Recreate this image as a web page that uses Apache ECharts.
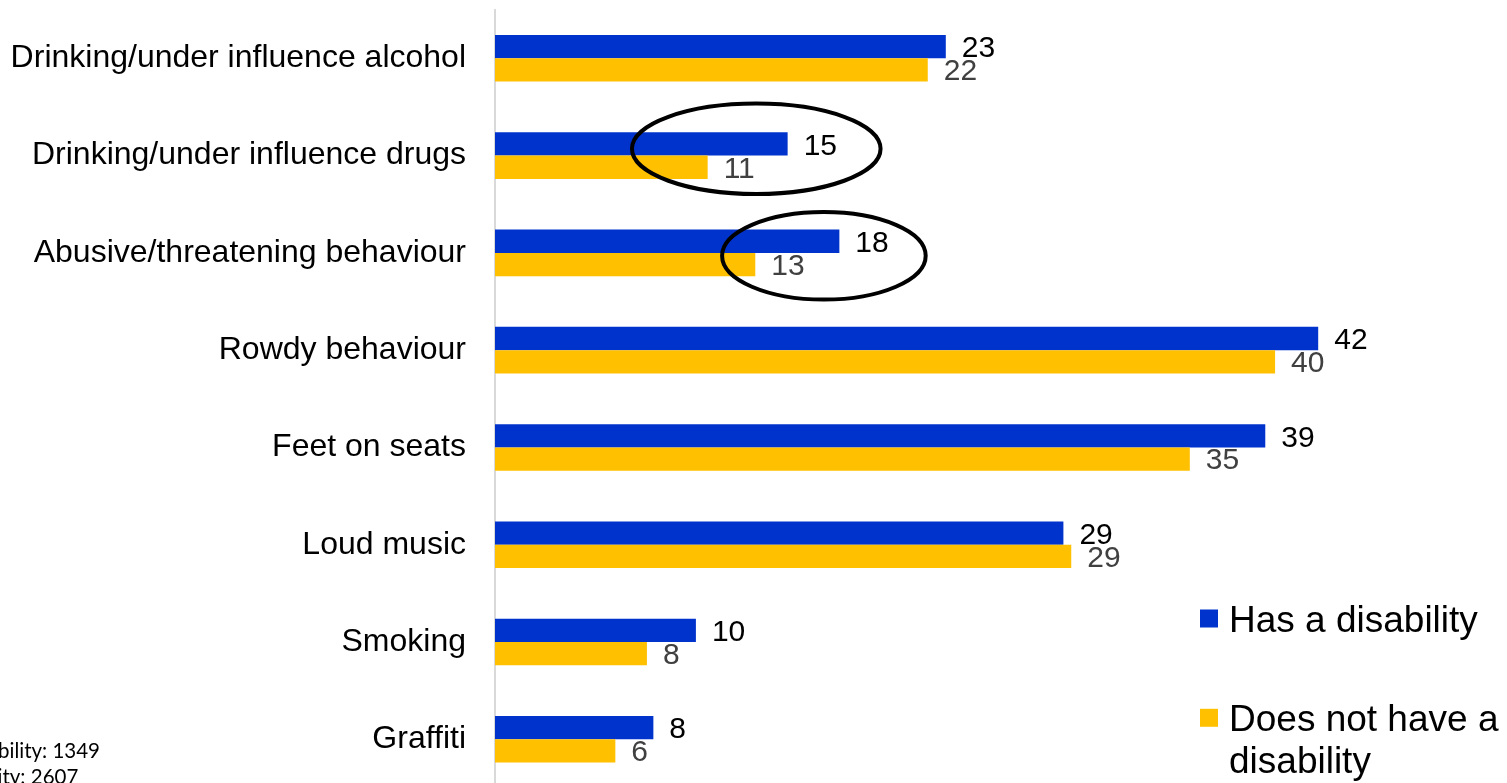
<!DOCTYPE html>
<html>
<head>
<meta charset="utf-8">
<script src="https://cdn.jsdelivr.net/npm/echarts@6/dist/echarts.min.js"></script>
<style>
  html, body { margin: 0; padding: 0; background: #fff; overflow: hidden; }
  #chart { width: 1507px; height: 792px; }
</style>
</head>
<body>
<div id="chart"></div>
<script>
// ---- data ----
const categories = [
  'Drinking/under influence alcohol',
  'Drinking/under influence drugs',
  'Abusive/threatening behaviour',
  'Rowdy behaviour',
  'Feet on seats',
  'Loud music',
  'Smoking',
  'Graffiti'
];
const seriesNames = ['Has a disability', 'Does not have a disability'];
const hasDisability = [23.0, 14.93, 17.57, 42.0, 39.3, 29.0, 10.25, 8.08];
const noDisability  = [22.08, 10.85, 13.28, 39.8, 35.45, 29.4, 7.75, 6.14];
const baseNotes = ['Has a disability: 1349', 'No disability: 2607'];
const circledCategories = [1, 2];

const FONT = '"Liberation Sans", Arial, sans-serif';
const chart = echarts.init(document.getElementById('chart'), null, { renderer: 'canvas' });

const labelFmt = p => String(Math.round(p.value));
const legendRich = {
  t: { color: '#000', fontSize: 37, lineHeight: 42, fontFamily: FONT, padding: [0, 0, 0, 6] },
  p1: { fontSize: 4, lineHeight: 6 },
  p2: { fontSize: 4, lineHeight: 48 }
};

const option = {
  backgroundColor: '#ffffff',
  animation: false,
  grid: { left: 495, top: 9.66, width: 980, height: 778.3, containLabel: false },
  xAxis: {
    type: 'value', min: 0, max: 50,
    show: false
  },
  yAxis: {
    type: 'category', data: categories, inverse: true,
    axisLine: { show: true, lineStyle: { color: '#d9d9d9', width: 2 } },
    axisTick: { show: false },
    splitLine: { show: false },
    axisLabel: { color: '#000', fontSize: 32, fontFamily: FONT, margin: 29, padding: [4, 0, 0, 0] }
  },
  legend: [
    {
      left: 1200, top: 594.5, padding: 0, orient: 'vertical',
      icon: 'rect', itemWidth: 18, itemHeight: 18,
      data: [seriesNames[0]],
      formatter: n => '{p1| }\n{t|' + n + '}',
      textStyle: { color: '#000', fontSize: 37, lineHeight: 42, fontFamily: FONT, rich: legendRich }
    },
    {
      left: 1200, top: 651.8, padding: 0, orient: 'vertical',
      icon: 'rect', itemWidth: 18, itemHeight: 18,
      data: [seriesNames[1]],
      formatter: () => '{p2| }\n{t|Does not have a}\n{t|disability}',
      textStyle: { color: '#000', fontSize: 37, lineHeight: 42, fontFamily: FONT, rich: legendRich }
    }
  ],
  series: [
    {
      name: seriesNames[0], type: 'bar', data: hasDisability,
      barWidth: 23.3, barGap: '0%',
      itemStyle: { color: '#0033CC' },
      label: { show: true, position: 'right', distance: 16, offset: [0, 2.5], formatter: labelFmt,
               color: '#000', fontSize: 30, fontFamily: FONT }
    },
    {
      name: seriesNames[1], type: 'bar', data: noDisability,
      barWidth: 23.3, barGap: '0%',
      itemStyle: { color: '#FFC000' },
      label: { show: true, position: 'right', distance: 16, offset: [0, 2], formatter: labelFmt,
               color: '#404040', fontSize: 30, fontFamily: FONT }
    }
  ]
};
chart.setOption(option);

// Annotation ellipses around the highlighted categories, positioned from the axes
const ellipseSpecs = [
  { value: 13.33, dy: -6.8, rx: 124.3, ry: 45.2 },
  { value: 16.78, dy: 2.9, rx: 101.8, ry: 43.8 }
];
const graphics = [];
circledCategories.forEach((ci, i) => {
  const s = ellipseSpecs[i];
  const p = chart.convertToPixel({ gridIndex: 0 }, [s.value, ci]);
  graphics.push({
    type: 'ellipse', z: 100,
    shape: { cx: p[0], cy: p[1] + s.dy, rx: s.rx, ry: s.ry },
    style: { fill: 'none', stroke: '#000', lineWidth: 4 }
  });
});
// Base size notes (partly cut off at the left edge, as in the original)
const noteRight = [100, 78.3];
const noteY = [751, 777.6];
baseNotes.forEach((t, i) => {
  graphics.push({
    type: 'text', z: 100, x: noteRight[i], y: noteY[i],
    style: { text: t, align: 'right', verticalAlign: 'middle',
             font: '20.5px Lato, "Open Sans", sans-serif', fill: '#000' }
  });
});
chart.setOption({ graphic: graphics });
</script>
</body>
</html>
